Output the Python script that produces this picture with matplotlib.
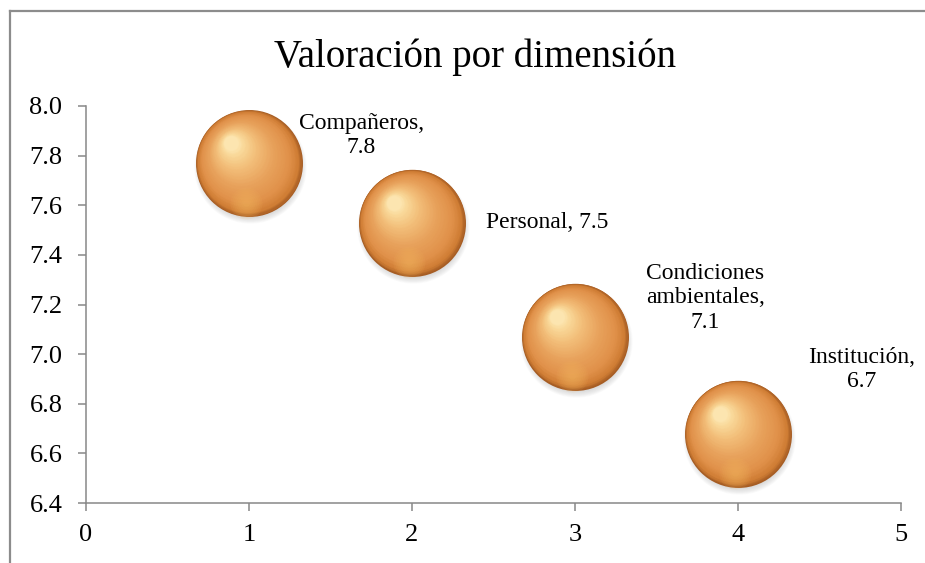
import numpy as np
import matplotlib.pyplot as plt
from matplotlib import transforms
from matplotlib.colors import LinearSegmentedColormap
from matplotlib.lines import Line2D

# Data
dimensions = ["Compañeros", "Personal", "Condiciones\nambientales", "Institución"]
x_vals = [1, 2, 3, 4]
scores = [7.77, 7.53, 7.07, 6.68]
score_text = ["7.8", "7.5", "7.1", "6.7"]
label_sep = ["\n", " ", "\n", "\n"]

# label offsets from the bubble centre (points)
label_offsets = [(81, 20), (97, 0), (94, 28), (89, 46)]

plt.rcParams["font.family"] = ["Liberation Serif", "DejaVu Serif"]

fig = plt.figure(figsize=(9.25, 5.63), dpi=100)
ax = fig.add_axes([86 / 925, 1 - 503 / 563, (901 - 86) / 925, (503 - 106) / 563])

# sphere shading: darker rim -> orange -> pale highlight
sphere_cmap = LinearSegmentedColormap.from_list(
    "sphere",
    [(0.0, "#a65d24"), (0.06, "#cf7d34"), (0.2, "#e0914a"), (0.45, "#e8a25c"),
     (0.7, "#f2bd78"), (0.9, "#f9d898"), (1.0, "#fde8b4")])

diam = 77.0  # points
hx, hy = -0.34 * diam / 2, 0.38 * diam / 2  # highlight position

# soft drop shadow
for k in range(8):
    tr = transforms.offset_copy(ax.transData, fig=fig, x=1.0, y=-3.0, units="points")
    ax.scatter(x_vals, scores, s=(diam * (1.05 - 0.015 * k)) ** 2, color="#808080",
               alpha=0.035, linewidths=0, transform=tr, clip_on=False, zorder=2)

n_layers = 60
for k in range(n_layers):
    t = k / n_layers
    tr = transforms.offset_copy(ax.transData, fig=fig, x=hx * t, y=hy * t, units="points")
    d = diam * (1 - 0.88 * t)
    ax.scatter(x_vals, scores, s=d ** 2, color=sphere_cmap(t), linewidths=0,
               transform=tr, clip_on=False, zorder=3 + k * 0.01)

# warm reflection along the lower rim
for k in range(8):
    tr = transforms.offset_copy(ax.transData, fig=fig, x=-2, y=-diam * 0.37, units="points")
    ax.scatter(x_vals, scores, s=(diam * 0.30 * (1 - k / 9)) ** 2, color="#f2b45e",
               alpha=0.10, linewidths=0, transform=tr, clip_on=False, zorder=3.7)

for xv, yv, name, sc, sep, (dx, dy) in zip(x_vals, scores, dimensions, score_text,
                                           label_sep, label_offsets):
    ax.annotate(f"{name},{sep}{sc}", (xv, yv), xytext=(dx, dy), textcoords="offset points",
                ha="center", va="center", multialignment="center",
                fontsize=17, color="black", annotation_clip=False, zorder=10)

ax.set_xlim(0, 5)
ax.set_ylim(6.4, 8.0)
ax.set_xticks(np.arange(0, 6, 1))
ax.set_yticks(np.arange(6.4, 8.01, 0.2))
ax.set_yticklabels([f"{v:.1f}" for v in np.arange(6.4, 8.01, 0.2)])

for side in ["top", "right"]:
    ax.spines[side].set_visible(False)
for side in ["left", "bottom"]:
    ax.spines[side].set_color("#888888")
    ax.spines[side].set_linewidth(1.1)
ax.tick_params(axis="both", direction="out", length=6, width=1.1, color="#888888",
               labelsize=19, labelcolor="black")
ax.tick_params(axis="y", pad=11)
ax.tick_params(axis="x", pad=9)

fig.text(475 / 925, 1 - 67 / 563, "Valoración por dimensión", ha="center", va="baseline",
         fontsize=28, color="black")

# outer chart frame (left and top edges visible)
fig.add_artist(Line2D([9.5 / 925, 9.5 / 925], [0, 1 - 10.5 / 563], transform=fig.transFigure,
                      color="#8c8c8c", linewidth=1.6))
fig.add_artist(Line2D([9.5 / 925, 1], [1 - 10.5 / 563, 1 - 10.5 / 563], transform=fig.transFigure,
                      color="#8c8c8c", linewidth=1.6))

fig.savefig("out.png", dpi=100, facecolor="white")
